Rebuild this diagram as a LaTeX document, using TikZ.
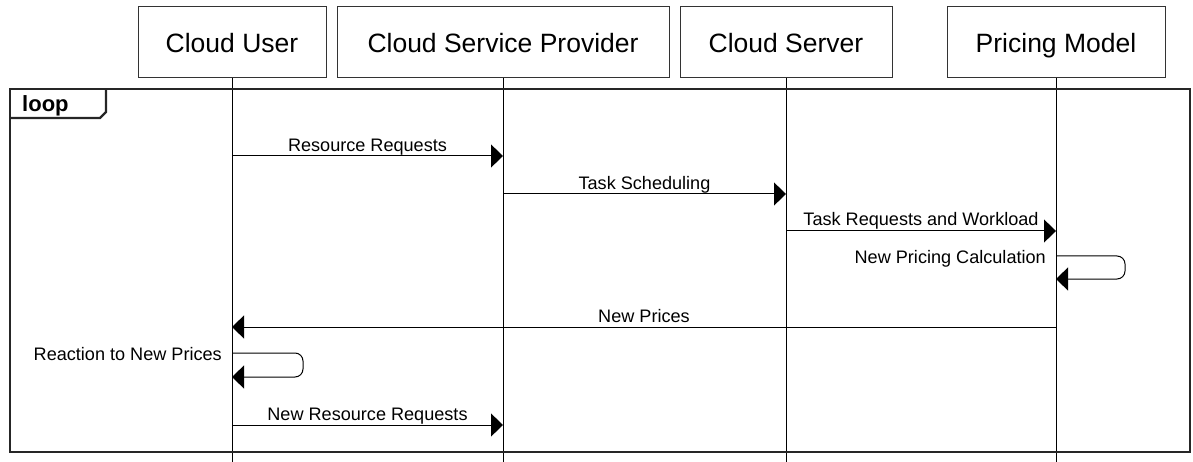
\documentclass[tikz,border=0pt]{standalone}
\usepackage{fontspec}
\setmainfont{Liberation Sans}
\usetikzlibrary{arrows.meta}

\begin{document}
\begin{tikzpicture}[
  x=1pt, y=-1pt,
  font=\fontsize{18.1}{20}\selectfont,
  part/.style ={draw=black!80, line width=1pt, inner sep=0pt, minimum height=71pt,
                text height=19.3pt, text depth=0pt, font=\fontsize{26.5}{30}\selectfont},
  life/.style ={draw=black, line width=1pt},
  msg/.style  ={-{Triangle[length=12pt,width=23pt]}, line width=1pt, draw=black},
  selfmsg/.style={msg, rounded corners=8pt},
  lbl/.style  ={anchor=base, inner sep=0pt},
  frm/.style  ={draw=black!85, line width=2.4pt},
]
\useasboundingbox (0,0) rectangle (1193,462);

% ---- participants ----
\node[part, minimum width=188pt] (usr) at ( 232, 42.5) {Cloud User};
\node[part, minimum width=332pt] (csp) at ( 503, 42.5) {Cloud Service Provider};
\node[part, minimum width=212pt] (srv) at ( 786, 42.5) {Cloud Server};
\node[part, minimum width=218pt] (pm)  at (1056, 42.5) {Pricing Model};

% ---- lifelines ----
\draw[life] (usr.south) -- (usr.south |- 0,462);
\draw[life] (csp.south) -- (csp.south |- 0,462);
\draw[life] (srv.south) -- (srv.south |- 0,462);
\draw[life] (pm.south)  -- (pm.south  |- 0,462);

% ---- loop fragment ----
\draw[frm] (10,89) rectangle (1190,452);
\draw[frm] (10,118) -- (100,118) -- (106,112) -- (106,89);
\node[anchor=base west, inner sep=0pt, font=\bfseries\fontsize{22}{24}\selectfont]
  (loop) at (22,112) {loop};

% ---- messages ----
\draw[msg] (usr |- 0,156) -- node[lbl, yshift=4pt]{Resource Requests} (csp |- 0,156);
\draw[msg] (csp |- 0,194) -- node[lbl, yshift=4pt]{Task Scheduling} (srv |- 0,194);
\draw[msg] (srv |- 0,231) -- node[lbl, yshift=5pt]{Task Requests and Workload} (pm |- 0,231);

\draw[selfmsg] (pm |- 0,256) -- ++(69,0) -- ++(0,23) -- (pm |- 0,279);
\node[lbl, anchor=base east] (calc) at ([xshift=-10pt]pm |- 0,263) {New Pricing Calculation};

\draw[msg] (pm |- 0,327) -- node[lbl, yshift=5pt]{New Prices} (usr |- 0,327);

\draw[selfmsg] (usr |- 0,353) -- ++(71,0) -- ++(0,24) -- (usr |- 0,377);
\node[lbl, anchor=base east] (react) at ([xshift=-10pt]usr |- 0,360) {Reaction to New Prices};

\draw[msg] (usr |- 0,425) -- node[lbl, yshift=5pt]{New Resource Requests} (csp |- 0,425);
\end{tikzpicture}
\end{document}
